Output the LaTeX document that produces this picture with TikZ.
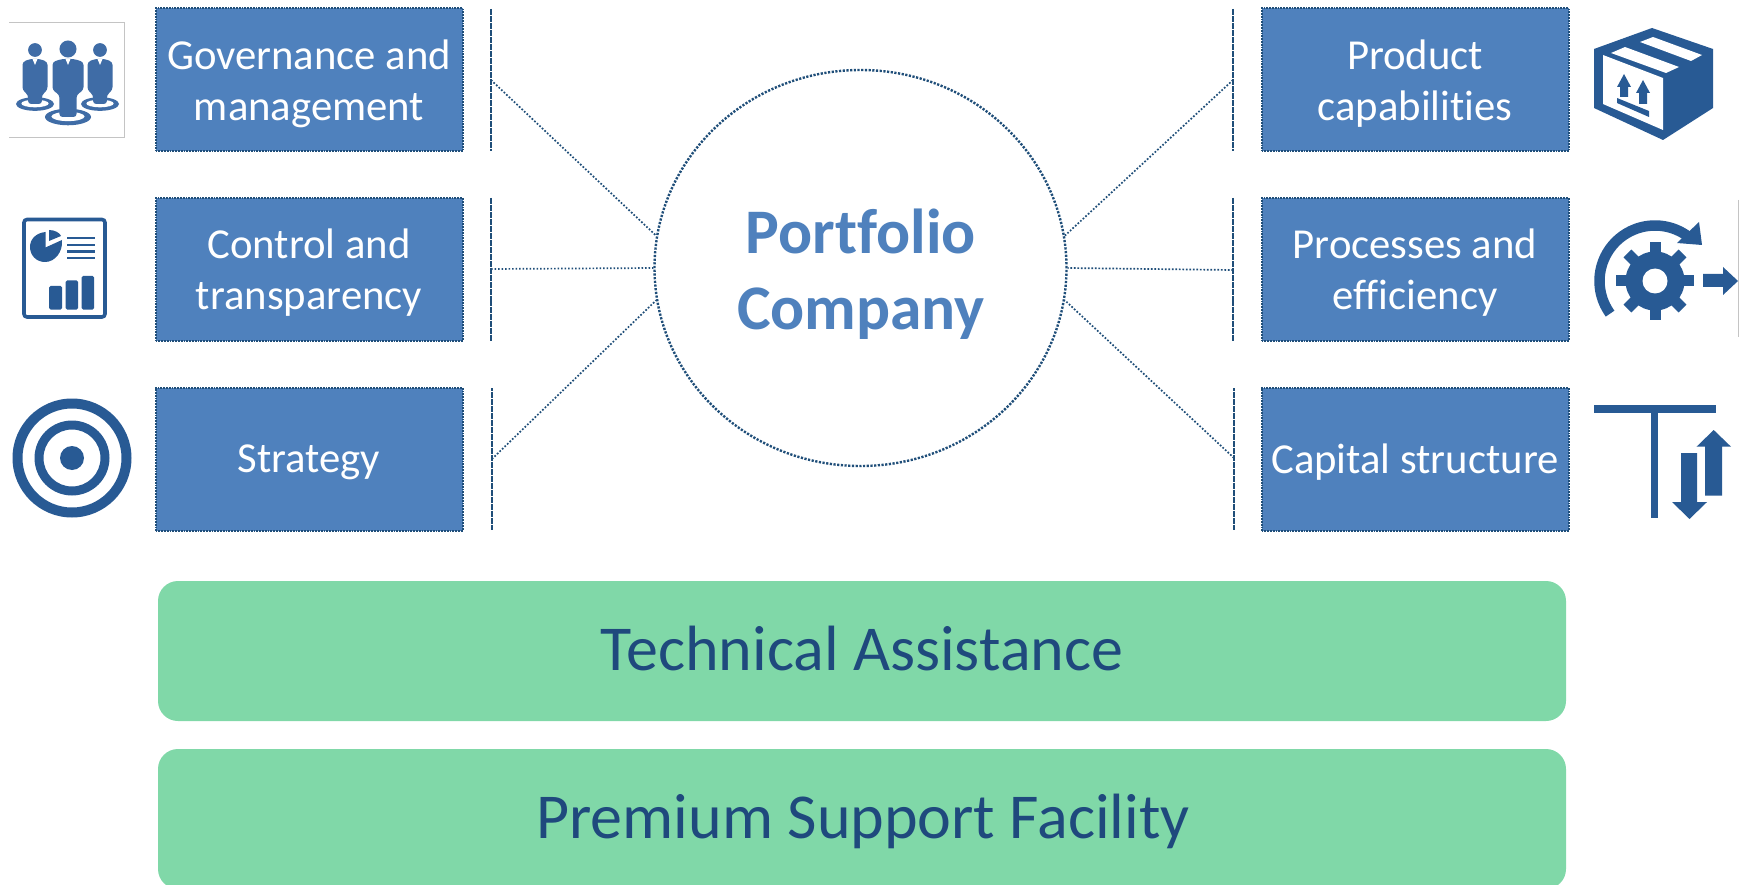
\documentclass[tikz,border=0pt]{standalone}
\usepackage{fontspec}
\setmainfont[Ligatures=NoCommon]{Carlito}
\usetikzlibrary{shapes.geometric}
\definecolor{boxfill}{HTML}{4F81BD}
\definecolor{dotline}{HTML}{1F4E79}
\definecolor{iconblue}{HTML}{285A94}
\definecolor{iconsoft}{HTML}{3F6CA6}
\definecolor{greenfill}{HTML}{80D8A8}
\definecolor{navytext}{HTML}{1F497D}
\definecolor{framegray}{HTML}{C4C4C4}
\tikzset{
  topicbox/.style={rectangle,draw=dotline,fill=boxfill,line width=2pt,dash pattern=on 1.8pt off 1pt,
    minimum width=307pt,minimum height=143pt,inner sep=0pt},
  toptext/.style={align=center,text=white,inner sep=0pt,font=\fontsize{42.7}{50.5}\selectfont},
  barline/.style={draw=dotline,line width=2.2pt,dash pattern=on 3pt off 0.5pt},
  linkline/.style={draw=dotline,line width=1.7pt,dash pattern=on 1.7pt off 1.8pt},
  hubcircle/.style={ellipse,draw=dotline,fill=white,line width=2.4pt,dash pattern=on 2.2pt off 1.5pt,
    minimum width=412pt,minimum height=396pt,inner sep=0pt},
  hubtextstyle/.style={text=boxfill,align=center,inner sep=0pt,font=\fontsize{63.5}{76}\selectfont\bfseries},
  bandbox/.style={rectangle,rounded corners=20pt,fill=greenfill,minimum width=1408pt,inner sep=0pt},
  bandtext/.style={text=navytext,inner sep=0pt,font=\fontsize{64}{70}\selectfont},
  iconfill/.style={fill=iconblue,draw=none},
  softfill/.style={fill=iconsoft,draw=none},
  frameline/.style={draw=framegray,line width=0.9pt}
}
\newcommand{\personicon}[6]{% x, head y, half width, shoulder y, foot y, ring rx
  \fill[softfill] (#1,#5) ellipse [x radius=#6,y radius=#6*0.36];
  \fill[white] (#1,#5-0.5) ellipse [x radius=#6*0.72,y radius=#6*0.2];
  \fill[softfill] (#1,#2) circle [radius=#3*0.55];
  \fill[softfill,rounded corners=3pt] (#1-#3,#4+2) -- (#1-#3*0.4,#4-1) -- (#1+#3*0.4,#4-1) -- (#1+#3,#4+2)
    -- (#1+#3,#4+30) -- (#1+#3*0.55,#4+35) -- (#1+#3*0.55,#5) -- (#1-#3*0.55,#5)
    -- (#1-#3*0.55,#4+35) -- (#1-#3,#4+30) -- cycle;
  \fill[white] (#1-2.5,#4-1) -- (#1+2.5,#4-1) -- (#1,#4+5) -- cycle;
}
\begin{document}
\begin{tikzpicture}[x=1pt,y=-1pt]
\useasboundingbox (0,0) rectangle (1745,885);
\clip (0,0) rectangle (1745,885);
\fill[white] (0,0) rectangle (1745,885);

% hub
\node[hubcircle] (hub) at (860.5,268) {};
\node[hubtextstyle] (hubtext) at (861,274.5) {Portfolio\\Company};

% topic boxes
\node[topicbox] (gov) at (309,80) {};
\node[topicbox] (ctl) at (309,269.5) {};
\node[topicbox] (str) at (309,459) {};
\node[topicbox] (prd) at (1415,80) {};
\node[topicbox] (prc) at (1415,269.5) {};
\node[topicbox] (cap) at (1415,459) {};
\node[toptext] (govt) at (309,84) {Governance and\\management};
\node[toptext] (ctlt) at (309,272.5) {Control and\\transparency};
\node[toptext] (strt) at (309,462.5) {Strategy};
\node[toptext] (prdt) at (1415,83.5) {Product\\capabilities};
\node[toptext] (prct) at (1415,272.5) {Processes and\\efficiency};
\node[toptext] (capt) at (1415,462) {Capital structure};

% bars
\coordinate (la1) at (491,9);   \coordinate (lm1) at (491,80);  \coordinate (lb1) at (491,151);
\coordinate (la2) at (491,198); \coordinate (lm2) at (491,269); \coordinate (lb2) at (491,341);
\coordinate (la3) at (492,388); \coordinate (lm3) at (492,459); \coordinate (lb3) at (492,530);
\coordinate (ra1) at (1233,9);   \coordinate (rm1) at (1233,80);  \coordinate (rb1) at (1233,151);
\coordinate (ra2) at (1233,198); \coordinate (rm2) at (1233,270); \coordinate (rb2) at (1233,341);
\coordinate (ra3) at (1234,388); \coordinate (rm3) at (1234,458); \coordinate (rb3) at (1234,530);
\foreach \s in {l,r}\foreach \i in {1,2,3}{\path[barline] (\s a\i) -- (\s b\i);}

% connectors
\path[linkline] (lm1) -- (hub.171);
\path[linkline] (lm2) -- (hub.180);
\path[linkline] (lm3) -- (hub.189);
\path[linkline] (rm1) -- (hub.9);
\path[linkline] (rm2) -- (hub.0);
\path[linkline] (rm3) -- (hub.-9);

% green bands
\node[bandbox,minimum height=140pt] (ta) at (862,651) {};
\node[bandbox,minimum height=140pt] (psf) at (862,819) {};
\node[bandtext] (tat) at (862,648.5) {Technical Assistance};
\node[bandtext] (psft) at (863,821) {Premium Support Facility};

% icon: people
\path[frameline] (9,22.5) -- (124,22.5) -- (124,137) -- (9,137);
\personicon{35}{50}{12.5}{60}{104}{19}
\personicon{100}{50}{12.5}{60}{104}{19}
\personicon{68}{49}{15.5}{60}{117}{23}

% icon: report
\draw[iconblue,line width=3.6pt,rounded corners=3pt] (24,219.5) rectangle (105,317);
\fill[iconfill] (45.5,247.5) -- (62,240) .. controls (63,252) and (55,262) .. (45,262)
  .. controls (36,262) and (30,255) .. (30,247) .. controls (30,239) and (36,233) .. (45.5,232) -- cycle;
\fill[iconfill] (49,230) .. controls (55,230) and (60,233) .. (61,236) -- (49,241) -- cycle;
\foreach \yy in {238,245,251.5,258}{\fill[iconfill] (67,\yy-1.2) rectangle (95,\yy+1.2);}
\fill[iconfill,rounded corners=1.5pt] (49,286) rectangle (62,309.5);
\fill[iconfill,rounded corners=1.5pt] (65.5,280.5) rectangle (78,309.5);
\fill[iconfill,rounded corners=1.5pt] (81.5,276) rectangle (94,309.5);

% icon: target
\fill[iconfill,even odd rule] (72,458) circle[radius=59.5] circle[radius=49.5] circle[radius=37.5] circle[radius=28.5];
\fill[iconfill] (72,458) circle[radius=12];

% icon: carton
\fill[iconfill] (1594,49) -- (1652,28) -- (1713,49) -- (1713,108) -- (1663,140) -- (1594,108) -- cycle;
\fill[white] (1603,55) -- (1663,78) -- (1663,130) -- (1603,104) -- cycle;
\fill[white] (1611,53) -- (1625,47) -- (1679,67) -- (1666,73) -- cycle;
\fill[white] (1640,42) -- (1653,37) -- (1702,55) -- (1691,61) -- cycle;
\fill[iconfill] (1624,74) -- (1631,87) -- (1628,87) -- (1628,97) -- (1620,97) -- (1620,87) -- (1617,87) -- cycle;
\fill[iconfill] (1643,80) -- (1650,93) -- (1647,93) -- (1647,104) -- (1639,104) -- (1639,93) -- (1636,93) -- cycle;
\fill[iconfill] (1617,98) -- (1649,111) -- (1649,117) -- (1617,103) -- cycle;

% icon: gear
\draw[iconblue,line width=10.5pt] plot[domain=144:306,samples=50] ({1655+55.5*cos(\x)},{281+55.5*sin(\x)});
\fill[iconfill] (1699,222) -- (1702,245) -- (1677,243) -- cycle;
\foreach \a in {0,45,...,315}{\fill[iconfill,rotate around={\a:(1655,281)}] (1649.5,242) rectangle (1660.5,262);}
\fill[iconfill] (1655,281) circle[radius=29.5];
\fill[white] (1655,281) circle[radius=12.5];
\fill[iconfill] (1703,274) -- (1723,274) -- (1723,267) -- (1738,281) -- (1723,295) -- (1723,287) -- (1703,287) -- cycle;
\path[frameline] (1738.5,200) -- (1738.5,337);

% icon: capital T with arrows
\fill[iconfill] (1594,405) rectangle (1716,412.5);
\fill[iconfill] (1651,412) rectangle (1658,518);
\fill[iconfill] (1713.7,430) -- (1731,446.7) -- (1722,446.7) -- (1722,495.7) -- (1705,495.7) -- (1705,446.7) -- (1696.5,446.7) -- cycle;
\fill[iconfill] (1681,453) -- (1697,453) -- (1697,502) -- (1707,502) -- (1689.5,519) -- (1672,502) -- (1681,502) -- cycle;
\end{tikzpicture}
\end{document}
